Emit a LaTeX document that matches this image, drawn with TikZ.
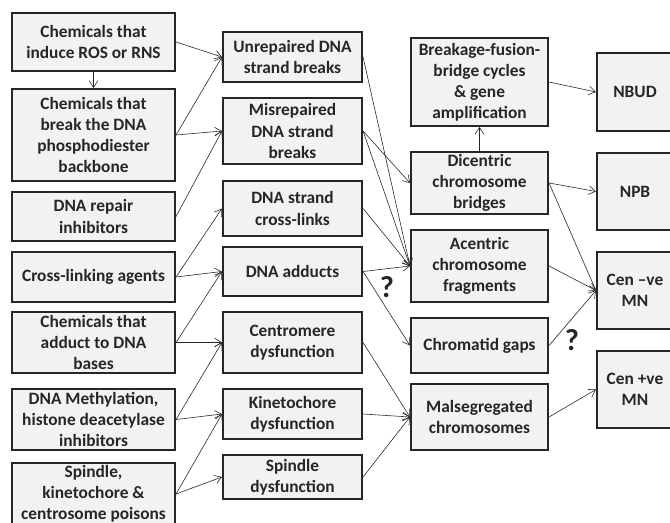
\documentclass[tikz,border=0pt]{standalone}
\usepackage{fontspec}
\setmainfont{Carlito}
\usetikzlibrary{arrows.meta}
\definecolor{boxfill}{HTML}{F1F2F4}
\definecolor{boxline}{HTML}{262626}

\begin{document}
\begin{tikzpicture}[x=0.3mm, y=-0.3mm,
    box/.style={draw=boxline, line width=1.8pt, fill=boxfill, align=center, inner sep=2pt,
      font=\fontsize{14.8}{18}\selectfont\bfseries, text=boxline},
    agent/.style={box, minimum width=48.9mm},
    lesion/.style={box, minimum width=41.7mm},
    aberr/.style={box, minimum width=41.1mm},
    endpt/.style={box, minimum width=22.8mm},
    link/.style={-{Straight Barb[length=2mm,width=2.6mm]}, line width=0.5pt, draw=boxline},
    qmark/.style={font=\fontsize{26}{26}\selectfont\bfseries, text=boxline}]

    % frame of the picture
    \clip (0,0) rectangle (670,523);

    % column 1: agents
    \node[agent, minimum height=17.4mm] (ros) at (93.5,42) {Chemicals that\\induce ROS or RNS};
    \node[agent, minimum height=27.6mm] (backbone) at (93.5,135) {Chemicals that\\break the DNA\\phosphodiester\\backbone};
    \node[agent, minimum height=14.7mm] (repinh) at (93.5,216.5) {DNA repair\\inhibitors};
    \node[agent, minimum height=15mm] (xlinker) at (93.5,277) {Cross-linking agents};
    \node[agent, minimum height=18.3mm] (adductor) at (93.5,342.5) {Chemicals that\\adduct to DNA\\bases};
    \node[agent, minimum height=18.3mm] (methyl) at (93.5,419.5) {DNA Methylation,\\histone deacetylase\\inhibitors};
    \node[agent, minimum height=18.6mm] (poison) at (93.5,494) {Spindle,\\kinetochore \&\\centrosome poisons};

    % column 2: lesions
    \node[lesion, minimum height=15mm] (unrep) at (292.5,57) {Unrepaired DNA\\strand breaks};
    \node[lesion, minimum height=19.8mm] (misrep) at (292.5,131) {Misrepaired\\DNA strand\\breaks};
    \node[lesion, minimum height=16.5mm] (xlinks) at (292.5,208.5) {DNA strand\\cross-links};
    \node[lesion, minimum height=14.7mm] (adducts) at (292.5,271.5) {DNA adducts};
    \node[lesion, minimum height=18.3mm] (centro) at (292.5,342.5) {Centromere\\dysfunction};
    \node[lesion, minimum height=15mm] (kineto) at (292.5,414) {Kinetochore\\dysfunction};
    \node[lesion, minimum height=13.2mm] (spindle) at (292.5,477) {Spindle\\dysfunction};

    % column 3: chromosome aberrations
    \node[aberr, minimum height=26.4mm] (bfb) at (479.5,82) {Breakage-fusion-\\bridge cycles\\\& gene\\amplification};
    \node[aberr, minimum height=18mm] (dicen) at (479.5,183) {Dicentric\\chromosome\\bridges};
    \node[aberr, minimum height=21.6mm] (acen) at (479.5,266) {Acentric\\chromosome\\fragments};
    \node[aberr, minimum height=16.5mm] (gaps) at (479.5,345.5) {Chromatid gaps};
    \node[aberr, minimum height=19.8mm] (malseg) at (479.5,417) {Malsegregated\\chromosomes};

    % column 4: endpoints
    \node[endpt, minimum height=23.4mm] (nbud) at (635,92) {NBUD};
    \node[endpt, minimum height=23.1mm] (npb) at (635,191.5) {NPB};
    \node[endpt, minimum height=23.1mm] (cenneg) at (635,290.5) {Cen –ve\\MN};
    \node[endpt, minimum height=23.1mm] (cenpos) at (635,389.5) {Cen +ve\\MN};

    % vertical links
    \draw[link] (ros.south) -- (backbone.north);
    \draw[link] (dicen.north) -- (bfb.south);

    % agents to lesions
    \foreach \s/\t in {ros/unrep, backbone/unrep, backbone/misrep, repinh/misrep,
        xlinker/xlinks, xlinker/adducts, adductor/adducts, adductor/centro,
        methyl/centro, methyl/kineto, poison/kineto, poison/spindle}
      \draw[link] (\s.east) -- (\t.west);

    % lesions to aberrations
    \foreach \s/\t in {unrep/acen, misrep/dicen, misrep/acen, xlinks/acen, adducts/acen,
        adducts/gaps, centro/malseg, kineto/malseg, spindle/malseg}
      \draw[link] (\s.east) -- (\t.west);

    % aberrations to endpoints
    \foreach \s/\t in {bfb/nbud, dicen/npb, dicen/cenneg, acen/cenneg, gaps/cenneg, malseg/cenpos}
      \draw[link] (\s.east) -- (\t.west);

    % uncertain links
    \node[qmark] (q1) at (387,287) {?};
    \node[qmark] (q2) at (572,340) {?};

\end{tikzpicture}
\end{document}
